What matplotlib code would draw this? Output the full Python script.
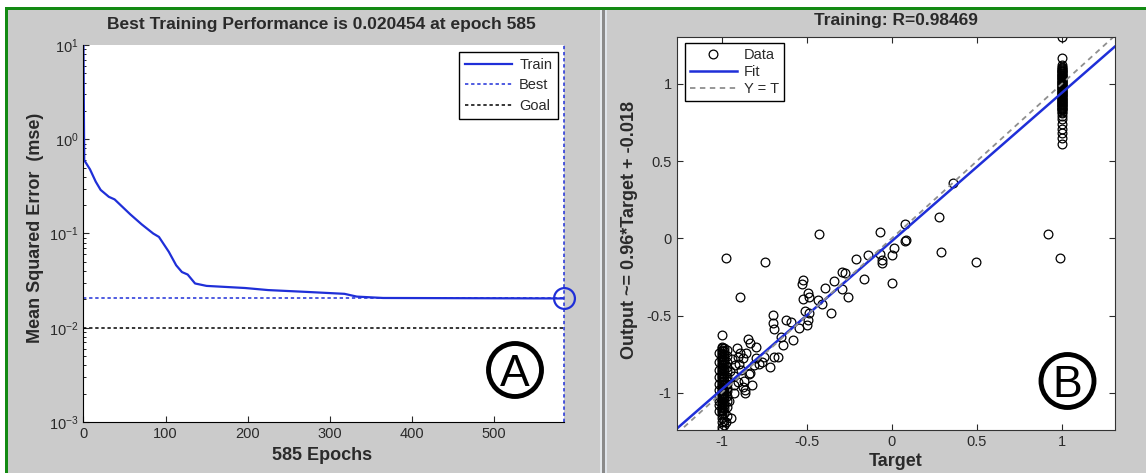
import matplotlib
matplotlib.use("Agg")
import matplotlib.pyplot as plt
from matplotlib.patches import Rectangle, Circle
from matplotlib.ticker import FixedLocator, LogLocator, NullFormatter

plt.rcParams.update({"font.family": ["Liberation Sans", "DejaVu Sans"], "font.size": 9,
                     "xtick.direction": "in", "ytick.direction": "in"})

# --- panel A: training performance ---
epochs = [0, 1, 8, 15, 21, 31, 38, 57, 71, 85, 92, 104, 113, 120, 127, 136, 150,
          197, 225, 272, 318, 333, 365, 585]
mse = [12, 0.60, 0.48, 0.355, 0.29, 0.245, 0.23, 0.16, 0.125, 0.10, 0.092, 0.064,
       0.046, 0.039, 0.0367, 0.0295, 0.0278, 0.0264, 0.0251, 0.024, 0.0229, 0.0214,
       0.0207, 0.020454]
best_epoch = 585
best_perf = 0.020454
goal = 0.01

# --- panel B: regression ---
o_neg1 = [-0.625, -0.70, -0.71, -0.72, -0.73, -0.74, -0.75, -0.76, -0.77, -0.78, -0.79,
          -0.80, -0.81, -0.82, -0.83, -0.84, -0.85, -0.86, -0.87, -0.88, -0.89, -0.90,
          -0.91, -0.92, -0.93, -0.94, -0.95, -0.96, -0.97, -0.98, -0.99, -1.00, -1.01,
          -1.02, -1.03, -1.04, -1.05, -1.06, -1.07, -1.08, -1.09, -1.10, -1.11, -1.12,
          -1.13, -1.14, -1.16, -1.19, -1.22, -1.24]
t_neg1 = [-1.0] * len(o_neg1)
o_near = [-0.71, -0.73, -0.75, -0.77, -0.79, -0.82, -0.84, -0.86, -0.88, -0.90, -0.92,
          -0.94, -0.95, -0.97, -0.99, -1.0, -1.02, -1.03, -1.06, -1.08, -1.1, -1.13,
          -1.18, -1.21,
          -0.72, -0.76, -0.8, -0.83, -0.86, -0.9, -0.92, -0.94, -0.97, -0.99, -1.02,
          -1.05, -1.09, -1.15,
          -0.74, -0.8, -0.85, -0.9, -0.94, -0.98, -1.02, -1.05, -1.08, -1.12]
t_near = [-0.985] * 24 + [-0.97] * 14 + [-1.015] * 10
t_mid = [-0.91, -0.845, -0.835, -0.80, -0.906, -0.875, -0.855, -0.92, -0.885, -0.93,
         -0.905, -0.875, -0.86, -0.86, -0.925, -0.955, -0.945, -0.975, -0.75, -0.76,
         -0.78, -0.81, -0.80, -0.835, -0.90, -0.715, -0.69, -0.67, -0.65, -0.64, -0.58,
         -0.70, -0.70, -0.69, -0.62, -0.595, -0.545, -0.50, -0.49, -0.51, -0.487, -0.52,
         -0.53, -0.52, -0.49, -0.487, -0.435, -0.41, -0.395, -0.34, -0.355, -0.29,
         -0.275, -0.29, -0.26, -0.21, -0.165, -0.14, -0.07, -0.06, -0.055, 0.0, 0.015,
         0.0, 0.075, 0.085, -0.43, -0.07, 0.08, 0.36, 0.28, 0.29, 0.495, 0.92, 0.99,
         -0.895, -0.973, -0.745, -0.94, -0.95, -0.93, -0.89, -0.87, -0.84, -0.82]
o_mid = [-0.71, -0.65, -0.68, -0.70, -0.765, -0.776, -0.74, -0.82, -0.85, -0.89, -0.93,
         -0.96, -0.98, -1.0, -1.0, -1.055, -1.16, -1.19, -0.765, -0.80, -0.81, -0.82,
         -0.775, -0.87, -0.81, -0.83, -0.765, -0.765, -0.635, -0.69, -0.66, -0.495,
         -0.55, -0.585, -0.53, -0.54, -0.58, -0.56, -0.53, -0.47, -0.485, -0.27, -0.295,
         -0.39, -0.355, -0.38, -0.40, -0.425, -0.32, -0.275, -0.485, -0.22, -0.225,
         -0.33, -0.38, -0.135, -0.265, -0.11, -0.10, -0.14, -0.16, -0.11, -0.065, -0.29,
         -0.02, -0.01, 0.03, 0.04, 0.093, 0.36, 0.136, -0.09, -0.155, 0.03, -0.125,
         -0.38, -0.125, -0.15, -0.78, -0.86, -0.95, -0.74, -0.92, -0.88, -0.95]
o_pos1 = [1.30, 1.17, 1.12, 1.11, 1.10, 1.095, 1.09, 1.085, 1.08, 1.075, 1.07, 1.065,
          1.06, 1.055, 1.05, 1.045, 1.04, 1.035, 1.03, 1.025, 1.02, 1.015, 1.01, 1.005,
          1.00, 0.995, 0.99, 0.985, 0.98, 0.975, 0.97, 0.965, 0.96, 0.955, 0.95, 0.945,
          0.94, 0.935, 0.93, 0.925, 0.92, 0.915, 0.91, 0.905, 0.90, 0.895, 0.89, 0.885,
          0.88, 0.875, 0.87, 0.865, 0.86, 0.855, 0.85, 0.845, 0.84, 0.835, 0.83, 0.82,
          0.81, 0.79, 0.77, 0.74, 0.71, 0.68, 0.65, 0.61]
t_pos1 = [1.0] * len(o_pos1)
targets = t_neg1 + t_near + t_mid + t_pos1
outputs = o_neg1 + o_near + o_mid + o_pos1
fit_slope, fit_offset = 0.96, -0.018
r_value = 0.98469
reg_ticks = [-1, -0.5, 0, 0.5, 1]
reg_ticklabels = ["-1", "-0.5", "0", "0.5", "1"]

W, H = 1146, 473
BG = "#cbcbcb"
BLUE = "#1f2fd8"
GREEN = "#138a13"
TXT = "#2a2a2a"
MDOT = (0, (2.2, 1.8))

fig = plt.figure(figsize=(W / 100, H / 100), dpi=100)
fig.patch.set_facecolor("white")

def px_rect(x0, y0, x1, y1, color, z=-10):
    # rectangle given in pixel coords measured from top-left
    fig.add_artist(Rectangle((x0 / W, 1 - y1 / H), (x1 - x0) / W, (y1 - y0) / H,
                             transform=fig.transFigure, facecolor=color,
                             edgecolor="none", zorder=z))

px_rect(8, 10, W, H, BG)
px_rect(5, 7, W, 10, GREEN)
px_rect(5, 7, 8, H, GREEN)
px_rect(600, 10, 602, H, "#e4e8ec")
px_rect(602, 10, 605, H, "#8a8a8a")
px_rect(605, 10, 607, H, "#dfe4ea")

# ---------- panel A ----------
ax1 = fig.add_axes([83.4 / W, 1 - 422 / H, 480.3 / W, 377 / H])
ax1.semilogy(epochs, mse, color=BLUE, lw=1.6, label="Train")
ax1.plot([0, best_epoch], [best_perf, best_perf], ls=MDOT, color=BLUE, lw=1.1, label="Best")
ax1.plot([best_epoch, best_epoch], [1e-3, 1e1], ls=MDOT, color=BLUE, lw=1.1, clip_on=False)
ax1.plot([0, best_epoch], [goal, goal], ls=MDOT, color="k", lw=1.1, label="Goal")
ax1.plot(best_epoch, best_perf, "o", mfc="none", mec=BLUE, ms=15, mew=1.6, clip_on=False)
ax1.set_xlim(0, 585)
ax1.set_ylim(1e-3, 1e1)
ax1.xaxis.set_major_locator(FixedLocator([0, 100, 200, 300, 400, 500]))
ax1.yaxis.set_major_locator(LogLocator(base=10, numticks=10))
ax1.yaxis.set_minor_locator(LogLocator(base=10, subs=range(2, 10), numticks=10))
ax1.yaxis.set_minor_formatter(NullFormatter())
for s in ("top", "right"):
    ax1.spines[s].set_visible(False)
ax1.tick_params(labelsize=10.5, colors=TXT, length=4)
ax1.tick_params(which="minor", length=2)
leg1 = ax1.legend(loc="upper right", bbox_to_anchor=(558 / W, 1 - 52 / H),
                  bbox_transform=fig.transFigure, borderaxespad=0, fancybox=False,
                  edgecolor="k", framealpha=1, fontsize=10.5, handlelength=3.2,
                  handletextpad=0.5, labelspacing=0.45, borderpad=0.4)
leg1.get_frame().set_linewidth(1.0)
for t in leg1.get_texts():
    t.set_color(TXT)

fig.text(321 / W, 1 - 25 / H, "Best Training Performance is 0.020454 at epoch 585",
         ha="center", va="center", fontsize=12.5, fontweight="bold", color=TXT)
fig.text(322 / W, 1 - 455 / H, "585 Epochs", ha="center", va="center",
         fontsize=13, fontweight="bold", color=TXT)
fig.text(36 / W, 1 - 228 / H, "Mean Squared Error  (mse)", ha="center", va="center",
         rotation=90, fontsize=13, fontweight="bold", color=TXT)

# ---------- panel B ----------
ax2 = fig.add_axes([676.6 / W, 1 - 430 / H, 438 / W, 393.3 / H])
lim_x = (-1.265, 1.31)
lim_y = (-1.24, 1.305)
ax2.plot(targets, outputs, "o", mfc="none", mec="k", ms=6.3, mew=0.9, ls="none",
         label="Data")
ax2.plot(lim_x, [fit_slope * v + fit_offset for v in lim_x], color=BLUE, lw=1.8,
         label="Fit")
ax2.plot(lim_x, lim_x, ls=(0, (3, 2.5)), color="#8f8f8f", lw=1.3, label="Y = T")
ax2.set_xlim(*lim_x)
ax2.set_ylim(*lim_y)
ax2.set_xticks(reg_ticks, reg_ticklabels)
ax2.set_yticks(reg_ticks, reg_ticklabels)
ax2.tick_params(labelsize=10.5, colors=TXT, length=4, top=True, right=True)
for s in ax2.spines.values():
    s.set_color("#333333")
leg2 = ax2.legend(loc="upper left", bbox_to_anchor=(685 / W, 1 - 43 / H),
                  bbox_transform=fig.transFigure, borderaxespad=0, fancybox=False,
                  edgecolor="k", framealpha=1, fontsize=10.5, handlelength=3.2,
                  handletextpad=0.5, labelspacing=0.2, borderpad=0.35)
leg2.get_frame().set_linewidth(1.0)
for t in leg2.get_texts():
    t.set_color(TXT)

fig.text(896 / W, 1 - 20 / H, f"Training: R={r_value}", ha="center", va="center",
         fontsize=12.5, fontweight="bold", color=TXT)
fig.text(896 / W, 1 - 461 / H, "Target", ha="center", va="center",
         fontsize=13, fontweight="bold", color=TXT)
fig.text(630 / W, 1 - 230 / H, "Output ~= 0.96*Target + -0.018", ha="center",
         va="center", rotation=90, fontsize=13, fontweight="bold", color=TXT)

# circled panel letters
for letter, cx, cy in (("A", 515, 370), ("B", 1067.5, 381)):
    fig.add_artist(Circle((cx / 100, (H - cy) / 100), 0.265, transform=fig.dpi_scale_trans,
                          facecolor="none", edgecolor="k", lw=3.5, zorder=20))
    fig.text(cx / W, 1 - (cy + 16) / H, letter, ha="center", va="baseline",
             fontsize=32, color="k", zorder=21)

fig.savefig("out.png", dpi=100, facecolor=fig.get_facecolor())
